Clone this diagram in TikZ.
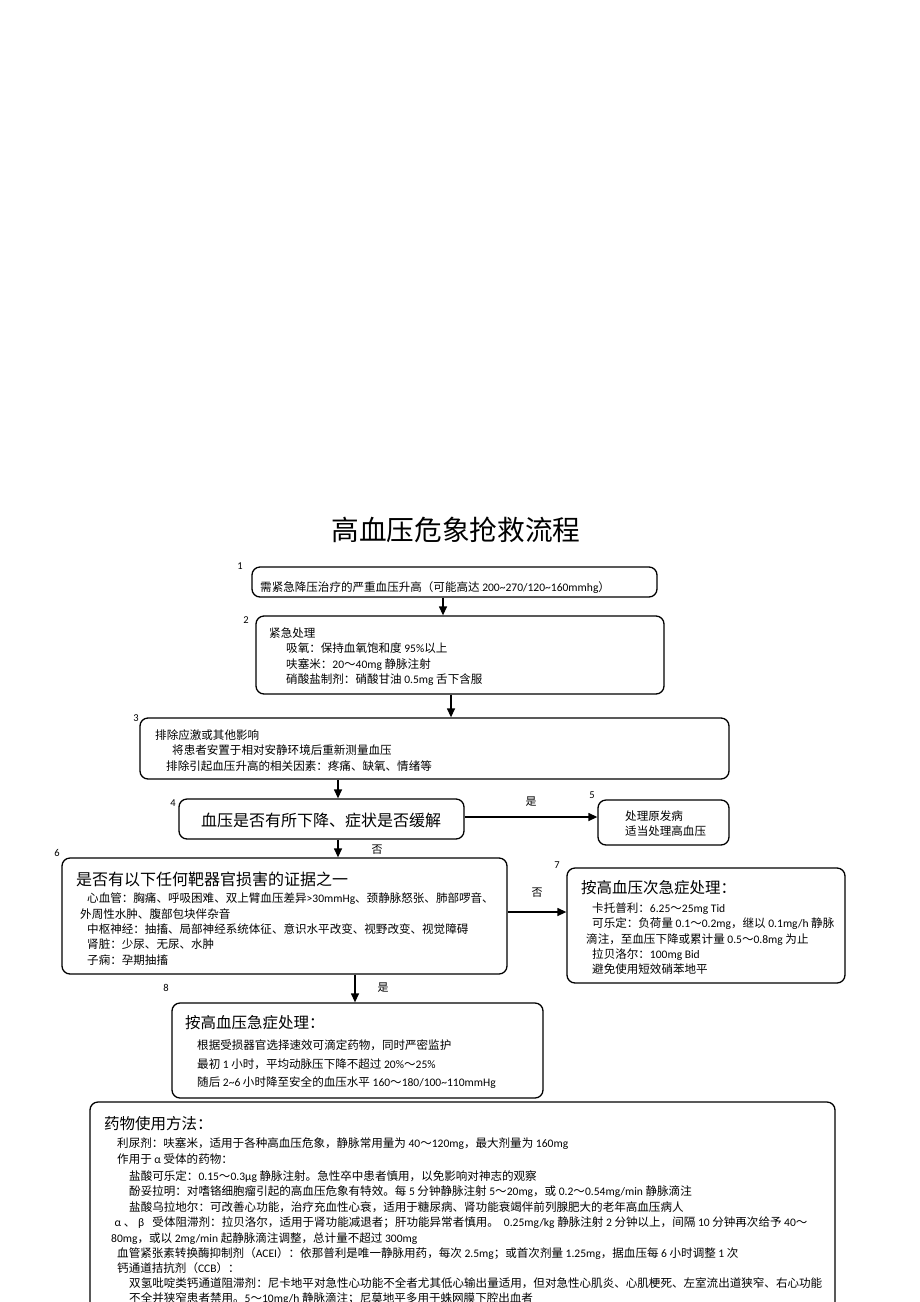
\documentclass[tikz,border=0pt]{standalone}
\usepackage{fontspec}
\setmainfont{Carlito}
\newfontfamily\cjkf{Noto Sans CJK SC}
\XeTeXinterchartokenstate=1
\newXeTeXintercharclass\cjkclass
\newcount\cjkcc
\cjkcc="2E80 \loop\ifnum\cjkcc<"A000 \XeTeXcharclass\cjkcc=\cjkclass \advance\cjkcc by 1 \repeat
\cjkcc="FF00 \loop\ifnum\cjkcc<"FFF0 \XeTeXcharclass\cjkcc=\cjkclass \advance\cjkcc by 1 \repeat
\XeTeXinterchartoks 0 \cjkclass = {\cjkf}
\XeTeXinterchartoks 4095 \cjkclass = {\cjkf}
\XeTeXinterchartoks \cjkclass 0 = {\rmfamily}
\XeTeXinterchartoks \cjkclass 4095 = {\rmfamily}
\usetikzlibrary{arrows.meta}
\tikzset{
 box/.style={draw=black, line width=1.3pt, rounded corners=8pt, inner sep=0pt},
 txt/.style={anchor=base west, inner sep=0pt, font=\fontsize{11.55}{14}\selectfont},
 ttl/.style={anchor=base west, inner sep=0pt, font=\fontsize{15.5}{18}\selectfont},
 num/.style={inner sep=0pt, font=\fontsize{10.5}{12}\selectfont},
 lab/.style={inner sep=0pt, font=\fontsize{11}{13}\selectfont},
 arr/.style={line width=1.3pt, -{Triangle[length=9pt,width=8pt]}},
}
\newcommand\bx[5]{\node[box,minimum width={#3-#2},minimum height={#5-#4}] (#1) at ({(#2+#3)/2},{(#4+#5)/2}) {};}
\newcommand\tx[4]{\node[txt] (#1) at (#2,{#3+4.4}) {#4};}
\newcommand\tlt[4]{\node[ttl] (#1) at (#2,{#3+5.9}) {#4};}
\begin{document}
\begin{tikzpicture}[x=1pt,y=-1pt]
\useasboundingbox[fill=white] (0,0) rectangle (920,1302);

\node[inner sep=0pt, font=\fontsize{27.7}{32}\selectfont] (title) at (456,530) {高血压危象抢救流程};

% boxes
\bx{b1}{252}{657}{567}{597}
\bx{b2}{256}{664}{616}{694}
\bx{b3}{140}{729}{718}{779}
\bx{b4}{179}{464}{799}{839}
\bx{b5}{598}{729}{800}{845}
\bx{b6}{62}{507}{858}{974}
\bx{b7}{567}{845}{868}{983}
\bx{b8}{172}{543}{1003}{1098}
\bx{b9}{90}{835}{1102}{1360}

% numbers
\node[num] (n1) at (240,566) {1};
\node[num] (n2) at (246,620) {2};
\node[num] (n3) at (136,718) {3};
\node[num] (n4) at (173,803) {4};
\node[num] (n5) at (592,795) {5};
\node[num] (n6) at (57,853) {6};
\node[num] (n7) at (557,865) {7};
\node[num] (n8) at (166,988) {8};

% box 1
\tx{t1}{260}{587}{需紧急降压治疗的严重血压升高（可能高达 200\textasciitilde 270/120\textasciitilde 160mmhg）}
% box 2
\tx{t2a}{269}{633}{紧急处理}
\tx{t2b}{286}{648}{吸氧：保持血氧饱和度 95\%以上}
\tx{t2c}{286}{664}{呋塞米：20～40mg 静脉注射}
\tx{t2d}{286}{679}{硝酸盐制剂：硝酸甘油 0.5mg 舌下含服}
% box 3
\tx{t3a}{155}{735}{排除应激或其他影响}
\tx{t3b}{172}{750}{将患者安置于相对安静环境后重新测量血压}
\tx{t3c}{166}{766}{排除引起血压升高的相关因素：疼痛、缺氧、情绪等}
% box 4
\node[inner sep=0pt, font=\fontsize{16}{19}\selectfont] (t4) at (321,820) {血压是否有所下降、症状是否缓解};
% box 5
\tx{t5a}{625}{816}{处理原发病}
\tx{t5b}{625}{831}{适当处理高血压}
% box 6
\node[ttl, font=\fontsize{16}{19}\selectfont] (t6) at (76,{879+6.1}) {是否有以下任何靶器官损害的证据之一};
\tx{t6a}{87}{898}{心血管：胸痛、呼吸困难、双上臂血压差异>30mmHg、颈静脉怒张、肺部啰音、}
\tx{t6b}{80}{914}{外周性水肿、腹部包块伴杂音}
\tx{t6c}{87}{929}{中枢神经：抽搐、局部神经系统体征、意识水平改变、视野改变、视觉障碍}
\tx{t6d}{87}{944}{肾脏：少尿、无尿、水肿}
\tx{t6e}{87}{960}{子痫：孕期抽搐}
% box 7
\tlt{t7}{581}{888}{按高血压次急症处理：}
\tx{t7a}{592}{908}{卡托普利：6.25～25mg Tid}
\tx{t7b}{592}{923}{可乐定：负荷量 0.1～0.2mg，继以 0.1mg/h 静脉}
\tx{t7c}{586}{939}{滴注，至血压下降或累计量 0.5～0.8mg 为止}
\tx{t7d}{592}{954}{拉贝洛尔：100mg Bid}
\tx{t7e}{592}{969}{避免使用短效硝苯地平}
% box 8
\tlt{t8}{185}{1023}{按高血压急症处理：}
\tx{t8a}{197}{1045}{根据受损器官选择速效可滴定药物，同时严密监护}
\tx{t8b}{197}{1064}{最初 1 小时，平均动脉压下降不超过 20\%～25\%}
\tx{t8c}{197}{1082}{随后 2\textasciitilde 6 小时降至安全的血压水平 160～180/100\textasciitilde 110mmHg}
% box 9
\tlt{t9}{104}{1124}{药物使用方法：}
\tx{t9a}{117}{1143}{利尿剂：呋塞米，适用于各种高血压危象，静脉常用量为 40～120mg，最大剂量为 160mg}
\tx{t9b}{117}{1159}{作用于 α 受体的药物：}
\tx{t9c}{129}{1176}{盐酸可乐定：0.15～0.3μg 静脉注射。急性卒中患者慎用，以免影响对神志的观察}
\tx{t9d}{129}{1191}{酚妥拉明：对嗜铬细胞瘤引起的高血压危象有特效。每 5 分钟静脉注射 5～20mg，或 0.2～0.54mg/min 静脉滴注}
\tx{t9e}{129}{1207}{盐酸乌拉地尔：可改善心功能，治疗充血性心衰，适用于糖尿病、肾功能衰竭伴前列腺肥大的老年高血压病人}
\tx{t9f}{112}{1222}{\makebox[11.55pt]{α}、\makebox[11.55pt]{β}\hspace{3pt} 受体阻滞剂：拉贝洛尔，适用于肾功能减退者；肝功能异常者慎用。\hspace{5pt}0.25mg/kg 静脉注射 2 分钟以上，间隔 10 分钟再次给予 40～}
\tx{t9g}{111}{1238}{80mg，或以 2mg/min 起静脉滴注调整，总计量不超过 300mg}
\tx{t9h}{117}{1253}{血管紧张素转换酶抑制剂（ACEI）：依那普利是唯一静脉用药，每次 2.5mg；或首次剂量 1.25mg，据血压每 6 小时调整 1 次}
\tx{t9i}{117}{1268}{钙通道拮抗剂（CCB）：}
\tx{t9j}{129}{1283}{双氢吡啶类钙通道阻滞剂：尼卡地平对急性心功能不全者尤其低心输出量适用，但对急性心肌炎、心肌梗死、左室流出道狭窄、右心功能}
\tx{t9k}{129}{1298}{不全并狭窄患者禁用。5～10mg/h 静脉滴注；尼莫地平多用于蛛网膜下腔出血者}

% connectors
\coordinate (c12) at (443,0);
\coordinate (c23) at (451,0);
\coordinate (c34) at (338,0);
\coordinate (c45) at (0,817);
\coordinate (c67) at (0,912);
\coordinate (c68) at (355,0);
\draw[arr] (b1.south -| c12) -- (b2.north -| c12);
\draw[arr] (b2.south -| c23) -- (b3.north -| c23);
\draw[arr] (b3.south -| c34) -- (b4.north -| c34);
\draw[arr] (b4.east |- c45) -- (b5.west |- c45);
\draw[arr] (b4.south -| c34) -- (b6.north -| c34);
\draw[arr] (b6.east |- c67) -- (b7.west |- c67);
\draw[arr] (b6.south -| c68) -- (b8.north -| c68);

% labels
\node[lab] (l45) at (531,802) {是};
\node[lab] (l46) at (377,850) {否};
\node[lab] (l67) at (537,893) {否};
\node[lab] (l68) at (383,988) {是};
\end{tikzpicture}
\end{document}
